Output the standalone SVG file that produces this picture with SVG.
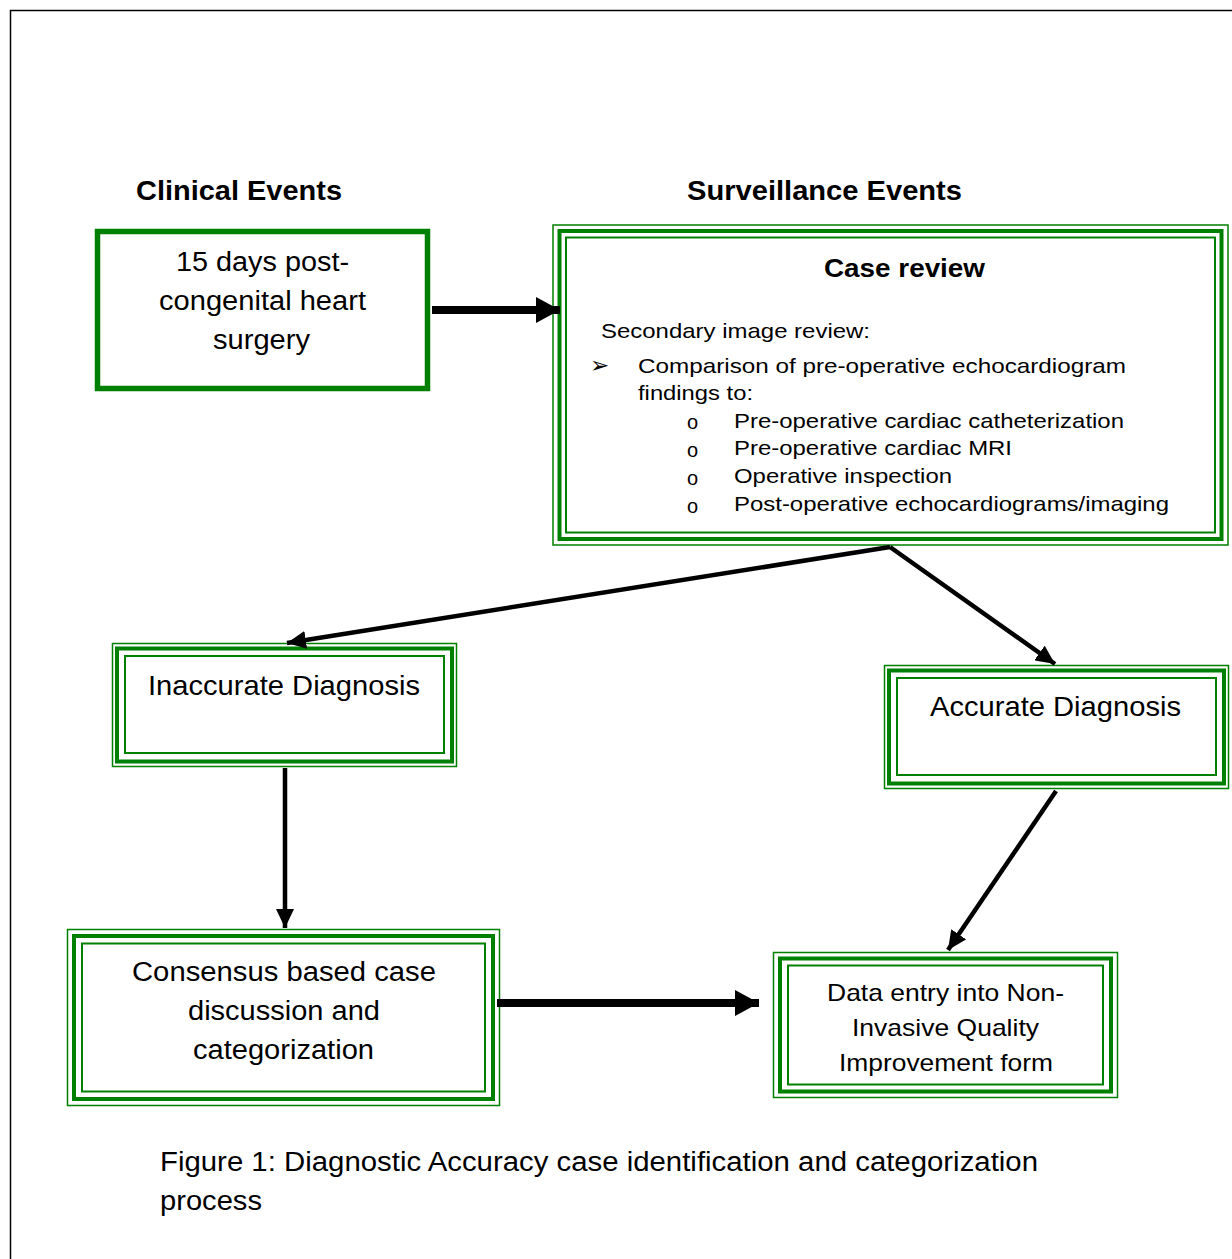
<svg xmlns="http://www.w3.org/2000/svg" width="1232" height="1259" viewBox="0 0 1232 1259">
<style>
.t{font-family:"Liberation Sans",Arial,sans-serif;fill:#000}
.o{fill:none;stroke:#008000;stroke-width:1.5}
.k{fill:none;stroke:#008000;stroke-width:4}
.i{fill:none;stroke:#008000;stroke-width:2}
.c{fill:none;stroke:#000}
</style>
<defs>
<marker id="big" markerUnits="userSpaceOnUse" markerWidth="26" markerHeight="26" refX="24" refY="13" orient="auto" viewBox="0 0 26 26"><path d="M0,0 L24,13 L0,26 Z" fill="#000"/></marker>
<marker id="sm" markerUnits="userSpaceOnUse" markerWidth="20" markerHeight="18" refX="19" refY="9" orient="auto" viewBox="0 0 20 18"><path d="M0,0 L19,9 L0,18 Z" fill="#000"/></marker>
</defs>
<rect x="0" y="0" width="1232" height="1259" fill="#fff"/>
<path d="M10.5,1259 V10.5 H1232" fill="none" stroke="#000" stroke-width="1.5"/>
<text class="t" x="136" y="200" font-size="27" font-weight="bold" textLength="206" lengthAdjust="spacingAndGlyphs">Clinical Events</text>
<text class="t" x="687" y="200" font-size="27" font-weight="bold" textLength="275" lengthAdjust="spacingAndGlyphs">Surveillance Events</text>
<g id="post-surgery">
<rect x="97.5" y="231.5" width="330" height="157" fill="none" stroke="#008000" stroke-width="5.5"/>
<text class="t" x="176" y="271" font-size="27" textLength="173" lengthAdjust="spacingAndGlyphs">15 days post-</text>
<text class="t" x="159" y="310" font-size="27" textLength="207" lengthAdjust="spacingAndGlyphs">congenital heart</text>
<text class="t" x="213" y="349" font-size="27" textLength="97" lengthAdjust="spacingAndGlyphs">surgery</text>
</g>
<g id="case-review">
<rect class="o" x="553" y="225" width="675" height="320"/>
<rect class="k" x="559.5" y="231" width="662" height="308"/>
<rect class="i" x="566" y="237.5" width="649" height="295"/>
<text class="t" x="824" y="277" font-size="25" font-weight="bold" textLength="161" lengthAdjust="spacingAndGlyphs">Case review</text>
<text class="t" x="601" y="338" font-size="21" textLength="269" lengthAdjust="spacingAndGlyphs">Secondary image review:</text>
<text class="t" x="590" y="373" font-size="23">➢</text>
<text class="t" x="638" y="373" font-size="21" textLength="488" lengthAdjust="spacingAndGlyphs">Comparison of pre-operative  echocardiogram</text>
<text class="t" x="638" y="400" font-size="21" textLength="115" lengthAdjust="spacingAndGlyphs">findings to:</text>
<text class="t" font-size="20"><tspan x="687" y="429">o</tspan><tspan x="687" y="457">o</tspan><tspan x="687" y="485">o</tspan><tspan x="687" y="513">o</tspan></text>
<text class="t" x="734" y="428" font-size="21" textLength="390" lengthAdjust="spacingAndGlyphs">Pre-operative cardiac catheterization</text>
<text class="t" x="734" y="455" font-size="21" textLength="278" lengthAdjust="spacingAndGlyphs">Pre-operative cardiac MRI</text>
<text class="t" x="734" y="483" font-size="21" textLength="218" lengthAdjust="spacingAndGlyphs">Operative inspection</text>
<text class="t" x="734" y="511" font-size="21" textLength="435" lengthAdjust="spacingAndGlyphs">Post-operative echocardiograms/imaging</text>
</g>
<g id="inaccurate">
<rect class="o" x="112.5" y="643.5" width="344" height="123"/>
<rect class="k" x="117" y="648.5" width="335" height="113"/>
<rect class="i" x="125" y="656" width="319" height="97"/>
<text class="t" x="148" y="695" font-size="28" textLength="272" lengthAdjust="spacingAndGlyphs">Inaccurate Diagnosis</text>
</g>
<g id="accurate">
<rect class="o" x="884.5" y="665.5" width="344" height="123"/>
<rect class="k" x="889" y="670.5" width="335" height="113"/>
<rect class="i" x="897" y="678" width="319" height="97"/>
<text class="t" x="930" y="716" font-size="28" textLength="251" lengthAdjust="spacingAndGlyphs">Accurate Diagnosis</text>
</g>
<g id="consensus">
<rect class="o" x="67.5" y="929.5" width="432" height="176"/>
<rect class="k" x="74" y="936" width="419" height="163"/>
<rect class="i" x="82" y="943.5" width="403" height="148"/>
<text class="t" x="132" y="981" font-size="27" textLength="304" lengthAdjust="spacingAndGlyphs">Consensus based case</text>
<text class="t" x="188" y="1020" font-size="27" textLength="192" lengthAdjust="spacingAndGlyphs">discussion and</text>
<text class="t" x="193" y="1059" font-size="27" textLength="181" lengthAdjust="spacingAndGlyphs">categorization</text>
</g>
<g id="data-entry">
<rect class="o" x="773.5" y="952.5" width="344" height="145"/>
<rect class="k" x="780" y="958.5" width="331" height="133"/>
<rect class="i" x="788" y="965.5" width="315" height="119"/>
<text class="t" x="827" y="1001" font-size="24" textLength="237" lengthAdjust="spacingAndGlyphs">Data entry into Non-</text>
<text class="t" x="852" y="1036" font-size="24" textLength="187" lengthAdjust="spacingAndGlyphs">Invasive Quality</text>
<text class="t" x="839" y="1071" font-size="24" textLength="214" lengthAdjust="spacingAndGlyphs">Improvement form</text>
</g>
<g id="connectors">
<line class="c" x1="432" y1="310" x2="560" y2="310" stroke-width="8" marker-end="url(#big)"/>
<line class="c" x1="497" y1="1003" x2="759" y2="1003" stroke-width="8" marker-end="url(#big)"/>
<line class="c" x1="890" y1="547" x2="287" y2="643" stroke-width="4.5" marker-end="url(#sm)"/>
<line class="c" x1="890" y1="547" x2="1055" y2="664" stroke-width="4.5" marker-end="url(#sm)"/>
<line class="c" x1="285" y1="768" x2="285" y2="928" stroke-width="4.5" marker-end="url(#sm)"/>
<line class="c" x1="1056" y1="791" x2="948" y2="950" stroke-width="4.5" marker-end="url(#sm)"/>
</g>
<text class="t" x="160" y="1171" font-size="27" textLength="878" lengthAdjust="spacingAndGlyphs">Figure 1: Diagnostic Accuracy case identification and categorization</text>
<text class="t" x="160" y="1210" font-size="27" textLength="102" lengthAdjust="spacingAndGlyphs">process</text>
</svg>
